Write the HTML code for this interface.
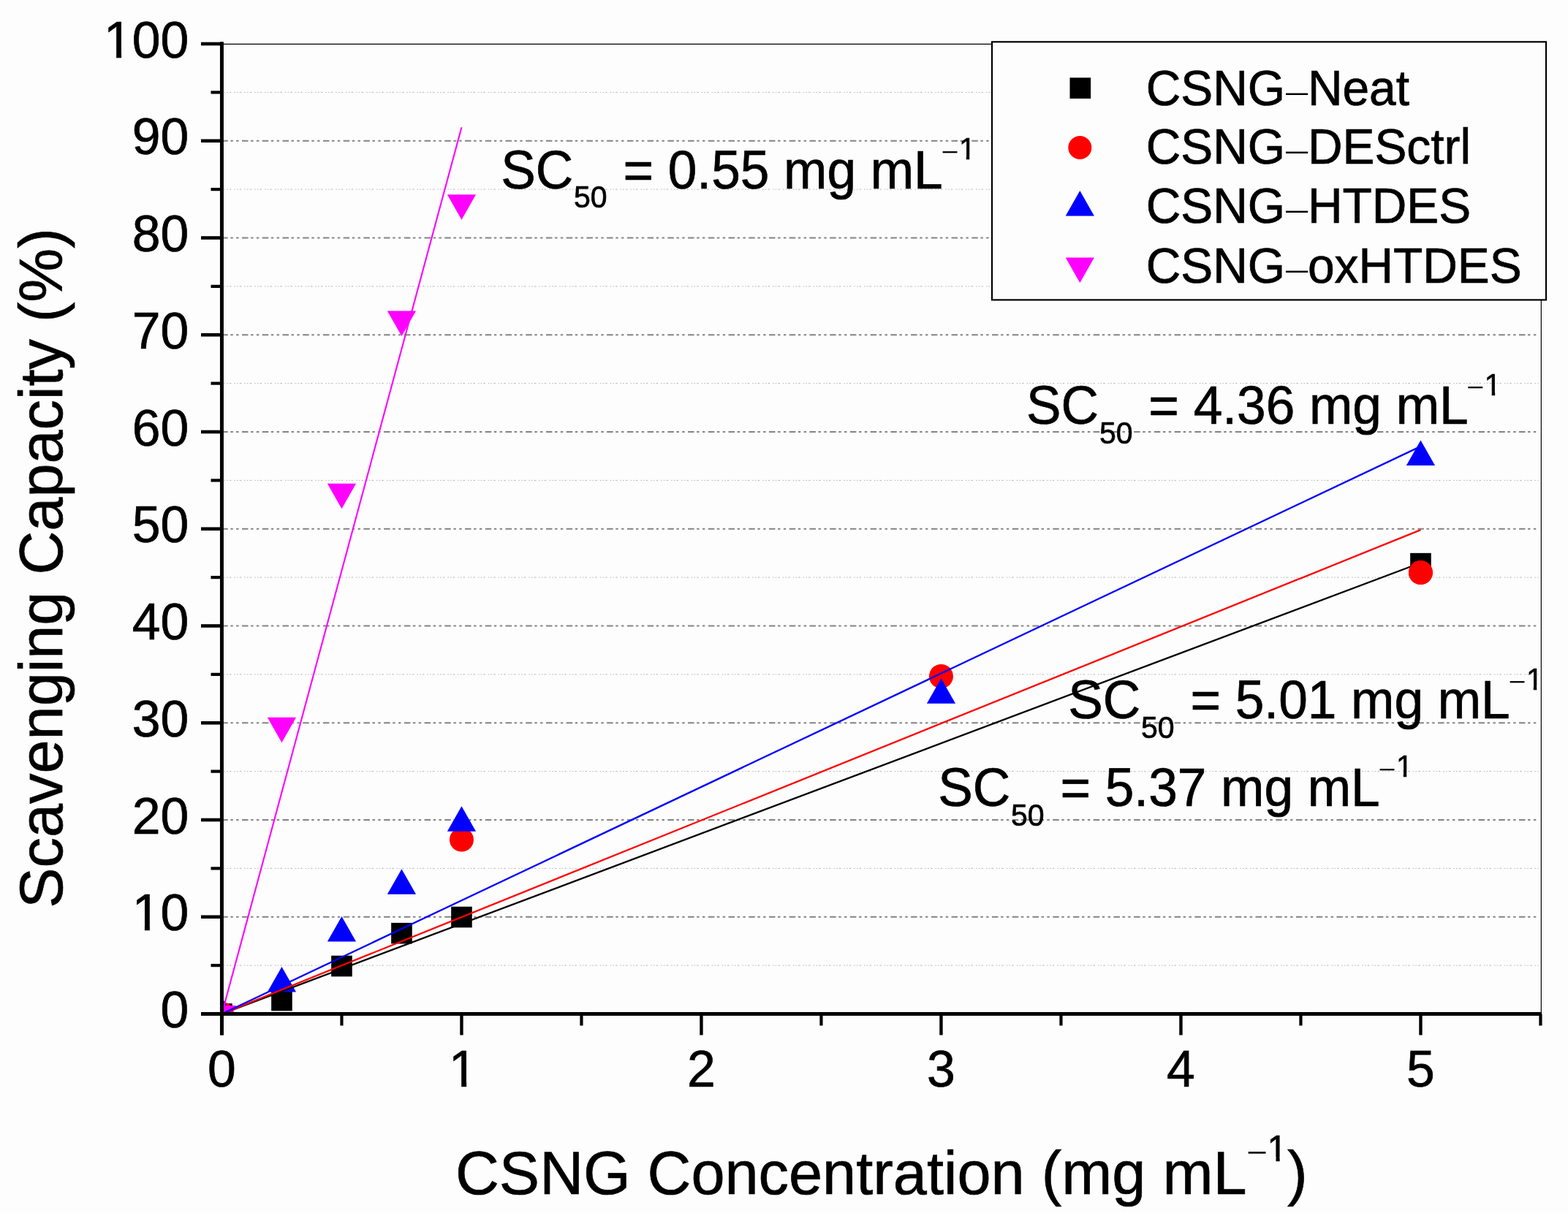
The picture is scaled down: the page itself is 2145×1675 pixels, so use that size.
<!DOCTYPE html>
<html><head><meta charset="utf-8"><title>Scavenging Capacity chart</title>
<style>html,body{margin:0;padding:0;background:#fdfdfd;overflow:hidden}svg{display:block}</style>
</head><body>
<svg width="2145" height="1675" viewBox="0 0 2145 1675"><defs><clipPath id="one1" clipPathUnits="userSpaceOnUse"><rect x="175.77" y="1203.65" width="87.53" height="62.74"/><rect x="197.90" y="1203.65" width="6.95" height="72.70"/><rect x="219.04" y="1203.65" width="87.53" height="90.61"/></clipPath><clipPath id="one2" clipPathUnits="userSpaceOnUse"><rect x="137.01" y="8.90" width="126.29" height="62.74"/><rect x="159.14" y="8.90" width="6.95" height="72.70"/><rect x="180.27" y="8.90" width="126.29" height="90.61"/></clipPath><clipPath id="one3" clipPathUnits="userSpaceOnUse"><rect x="609.07" y="1417.40" width="48.76" height="62.74"/><rect x="631.20" y="1417.40" width="6.95" height="72.70"/></clipPath><clipPath id="one4" clipPathUnits="userSpaceOnUse"><rect x="1728.60" y="1540.00" width="37.25" height="43.59"/><rect x="1745.52" y="1540.00" width="5.13" height="52.00"/></clipPath><clipPath id="one5" clipPathUnits="userSpaceOnUse"><rect x="1306.90" y="177.40" width="32.80" height="36.19"/><rect x="1321.81" y="177.40" width="4.42" height="44.00"/></clipPath><clipPath id="one6" clipPathUnits="userSpaceOnUse"><rect x="2025.80" y="499.60" width="32.80" height="36.19"/><rect x="2040.71" y="499.60" width="4.42" height="44.00"/></clipPath><clipPath id="one7" clipPathUnits="userSpaceOnUse"><rect x="2082.90" y="902.80" width="32.80" height="36.19"/><rect x="2097.81" y="902.80" width="4.42" height="44.00"/></clipPath><clipPath id="one8" clipPathUnits="userSpaceOnUse"><rect x="1904.90" y="1022.50" width="32.80" height="36.19"/><rect x="1919.81" y="1022.50" width="4.42" height="44.00"/></clipPath><clipPath id="pa"><rect x="303.45" y="60" width="1804.00" height="1327.50"/></clipPath></defs><rect x="0" y="0" width="2145" height="1675" fill="#fdfdfd"/>
<rect x="0" y="1659" width="2145" height="16" fill="#ffffff"/>
<line x1="306.45" y1="1321.12" x2="2104.45" y2="1321.12" stroke="#b4b4b4" stroke-width="1" stroke-dasharray="1.5,2.2,1.5,2.2,2.5,4"/>
<line x1="306.45" y1="1188.38" x2="2104.45" y2="1188.38" stroke="#b4b4b4" stroke-width="1" stroke-dasharray="1.5,2.2,1.5,2.2,2.5,4"/>
<line x1="306.45" y1="1055.62" x2="2104.45" y2="1055.62" stroke="#b4b4b4" stroke-width="1" stroke-dasharray="1.5,2.2,1.5,2.2,2.5,4"/>
<line x1="306.45" y1="922.88" x2="2104.45" y2="922.88" stroke="#b4b4b4" stroke-width="1" stroke-dasharray="1.5,2.2,1.5,2.2,2.5,4"/>
<line x1="306.45" y1="790.12" x2="2104.45" y2="790.12" stroke="#b4b4b4" stroke-width="1" stroke-dasharray="1.5,2.2,1.5,2.2,2.5,4"/>
<line x1="306.45" y1="657.38" x2="2104.45" y2="657.38" stroke="#b4b4b4" stroke-width="1" stroke-dasharray="1.5,2.2,1.5,2.2,2.5,4"/>
<line x1="306.45" y1="524.62" x2="2104.45" y2="524.62" stroke="#b4b4b4" stroke-width="1" stroke-dasharray="1.5,2.2,1.5,2.2,2.5,4"/>
<line x1="306.45" y1="391.88" x2="2104.45" y2="391.88" stroke="#b4b4b4" stroke-width="1" stroke-dasharray="1.5,2.2,1.5,2.2,2.5,4"/>
<line x1="306.45" y1="259.12" x2="2104.45" y2="259.12" stroke="#b4b4b4" stroke-width="1" stroke-dasharray="1.5,2.2,1.5,2.2,2.5,4"/>
<line x1="306.45" y1="126.38" x2="2104.45" y2="126.38" stroke="#b4b4b4" stroke-width="1" stroke-dasharray="1.5,2.2,1.5,2.2,2.5,4"/>
<line x1="303.27" y1="1254.75" x2="2102.45" y2="1254.75" stroke="#838383" stroke-width="2.2" stroke-dasharray="8.5,3.6,3.4,4.4,3.4,4.43"/>
<line x1="303.27" y1="1122.00" x2="2102.45" y2="1122.00" stroke="#838383" stroke-width="2.2" stroke-dasharray="8.5,3.6,3.4,4.4,3.4,4.43"/>
<line x1="303.27" y1="989.25" x2="2102.45" y2="989.25" stroke="#838383" stroke-width="2.2" stroke-dasharray="8.5,3.6,3.4,4.4,3.4,4.43"/>
<line x1="303.27" y1="856.50" x2="2102.45" y2="856.50" stroke="#838383" stroke-width="2.2" stroke-dasharray="8.5,3.6,3.4,4.4,3.4,4.43"/>
<line x1="303.27" y1="723.75" x2="2102.45" y2="723.75" stroke="#838383" stroke-width="2.2" stroke-dasharray="8.5,3.6,3.4,4.4,3.4,4.43"/>
<line x1="303.27" y1="591.00" x2="2102.45" y2="591.00" stroke="#838383" stroke-width="2.2" stroke-dasharray="8.5,3.6,3.4,4.4,3.4,4.43"/>
<line x1="303.27" y1="458.25" x2="2102.45" y2="458.25" stroke="#838383" stroke-width="2.2" stroke-dasharray="8.5,3.6,3.4,4.4,3.4,4.43"/>
<line x1="303.27" y1="325.50" x2="2102.45" y2="325.50" stroke="#838383" stroke-width="2.2" stroke-dasharray="8.5,3.6,3.4,4.4,3.4,4.43"/>
<line x1="303.27" y1="192.75" x2="2102.45" y2="192.75" stroke="#838383" stroke-width="2.2" stroke-dasharray="8.5,3.6,3.4,4.4,3.4,4.43"/>
<line x1="303.45" y1="60.4" x2="2108.45" y2="60.4" stroke="#000" stroke-width="1.2"/>
<line x1="2108.35" y1="60" x2="2108.35" y2="1387.50" stroke="#000" stroke-width="1.2"/>
<g clip-path="url(#pa)"><rect x="289.15" y="1373.20" width="28.6" height="28.6" fill="#000"/><rect x="371.15" y="1354.75" width="28.6" height="28.6" fill="#000"/><rect x="453.15" y="1307.75" width="28.6" height="28.6" fill="#000"/><rect x="535.15" y="1262.88" width="28.6" height="28.6" fill="#000"/><rect x="617.15" y="1240.72" width="28.6" height="28.6" fill="#000"/><rect x="1929.15" y="756.84" width="28.6" height="28.6" fill="#000"/><circle cx="303.45" cy="1387.50" r="16.5" fill="#f00"/><circle cx="631.45" cy="1149.08" r="16.5" fill="#f00"/><circle cx="1287.45" cy="925.53" r="16.5" fill="#f00"/><circle cx="1943.45" cy="783.49" r="16.5" fill="#f00"/><polygon points="303.45,1364.43 323.05,1399.03 283.85,1399.03" fill="#00f"/><polygon points="385.45,1322.88 405.05,1357.48 365.85,1357.48" fill="#00f"/><polygon points="467.45,1253.99 487.05,1288.59 447.85,1288.59" fill="#00f"/><polygon points="549.45,1189.20 569.05,1223.80 529.85,1223.80" fill="#00f"/><polygon points="631.45,1103.18 651.05,1137.78 611.85,1137.78" fill="#00f"/><polygon points="1287.45,928.22 1307.05,962.82 1267.85,962.82" fill="#00f"/><polygon points="1943.45,602.45 1963.05,637.05 1923.85,637.05" fill="#00f"/><polygon points="283.85,1375.97 323.05,1375.97 303.45,1410.57" fill="#f0f"/><polygon points="365.85,981.70 405.05,981.70 385.45,1016.30" fill="#f0f"/><polygon points="447.85,661.77 487.05,661.77 467.45,696.37" fill="#f0f"/><polygon points="529.85,425.48 569.05,425.48 549.45,460.08" fill="#f0f"/><polygon points="611.85,266.18 651.05,266.18 631.45,300.78" fill="#f0f"/></g>
<g clip-path="url(#pa)"><line x1="303.45" y1="1387.50" x2="1943.45" y2="770.21" stroke="#000" stroke-width="2.3"/><line x1="303.45" y1="1387.50" x2="1943.45" y2="725.08" stroke="#f00" stroke-width="2.3"/><line x1="303.45" y1="1387.50" x2="1943.45" y2="610.91" stroke="#00f" stroke-width="2.3"/><line x1="303.45" y1="1387.50" x2="631.45" y2="174.16" stroke="#f0f" stroke-width="2.1"/></g>
<circle cx="1943.45" cy="783.49" r="16.5" fill="#f00"/>
<line x1="303.45" y1="57.3" x2="303.45" y2="1416.5" stroke="#000" stroke-width="5"/>
<line x1="275" y1="1387.50" x2="2108.95" y2="1387.50" stroke="#000" stroke-width="5"/>
<line x1="275" y1="1387.50" x2="303.45" y2="1387.50" stroke="#000" stroke-width="4.6"/>
<line x1="275" y1="1254.75" x2="303.45" y2="1254.75" stroke="#000" stroke-width="4.6"/>
<line x1="275" y1="1122.00" x2="303.45" y2="1122.00" stroke="#000" stroke-width="4.6"/>
<line x1="275" y1="989.25" x2="303.45" y2="989.25" stroke="#000" stroke-width="4.6"/>
<line x1="275" y1="856.50" x2="303.45" y2="856.50" stroke="#000" stroke-width="4.6"/>
<line x1="275" y1="723.75" x2="303.45" y2="723.75" stroke="#000" stroke-width="4.6"/>
<line x1="275" y1="591.00" x2="303.45" y2="591.00" stroke="#000" stroke-width="4.6"/>
<line x1="275" y1="458.25" x2="303.45" y2="458.25" stroke="#000" stroke-width="4.6"/>
<line x1="275" y1="325.50" x2="303.45" y2="325.50" stroke="#000" stroke-width="4.6"/>
<line x1="275" y1="192.75" x2="303.45" y2="192.75" stroke="#000" stroke-width="4.6"/>
<line x1="275" y1="60.00" x2="303.45" y2="60.00" stroke="#000" stroke-width="4.6"/>
<line x1="288.5" y1="1321.12" x2="303.45" y2="1321.12" stroke="#000" stroke-width="4.2"/>
<line x1="288.5" y1="1188.38" x2="303.45" y2="1188.38" stroke="#000" stroke-width="4.2"/>
<line x1="288.5" y1="1055.62" x2="303.45" y2="1055.62" stroke="#000" stroke-width="4.2"/>
<line x1="288.5" y1="922.88" x2="303.45" y2="922.88" stroke="#000" stroke-width="4.2"/>
<line x1="288.5" y1="790.12" x2="303.45" y2="790.12" stroke="#000" stroke-width="4.2"/>
<line x1="288.5" y1="657.38" x2="303.45" y2="657.38" stroke="#000" stroke-width="4.2"/>
<line x1="288.5" y1="524.62" x2="303.45" y2="524.62" stroke="#000" stroke-width="4.2"/>
<line x1="288.5" y1="391.88" x2="303.45" y2="391.88" stroke="#000" stroke-width="4.2"/>
<line x1="288.5" y1="259.12" x2="303.45" y2="259.12" stroke="#000" stroke-width="4.2"/>
<line x1="288.5" y1="126.38" x2="303.45" y2="126.38" stroke="#000" stroke-width="4.2"/>
<line x1="303.45" y1="1387.50" x2="303.45" y2="1416.5" stroke="#000" stroke-width="4.4"/>
<line x1="631.45" y1="1387.50" x2="631.45" y2="1416.5" stroke="#000" stroke-width="4.4"/>
<line x1="959.45" y1="1387.50" x2="959.45" y2="1416.5" stroke="#000" stroke-width="4.4"/>
<line x1="1287.45" y1="1387.50" x2="1287.45" y2="1416.5" stroke="#000" stroke-width="4.4"/>
<line x1="1615.45" y1="1387.50" x2="1615.45" y2="1416.5" stroke="#000" stroke-width="4.4"/>
<line x1="1943.45" y1="1387.50" x2="1943.45" y2="1416.5" stroke="#000" stroke-width="4.4"/>
<line x1="467.45" y1="1387.50" x2="467.45" y2="1403.5" stroke="#000" stroke-width="4.2"/>
<line x1="795.45" y1="1387.50" x2="795.45" y2="1403.5" stroke="#000" stroke-width="4.2"/>
<line x1="1123.45" y1="1387.50" x2="1123.45" y2="1403.5" stroke="#000" stroke-width="4.2"/>
<line x1="1451.45" y1="1387.50" x2="1451.45" y2="1403.5" stroke="#000" stroke-width="4.2"/>
<line x1="1779.45" y1="1387.50" x2="1779.45" y2="1403.5" stroke="#000" stroke-width="4.2"/>
<line x1="2107.45" y1="1387.50" x2="2107.45" y2="1403.5" stroke="#000" stroke-width="4.2"/>
<text x="258.30" y="1406.10" font-family="'Liberation Sans', Arial, sans-serif" font-size="69.7" stroke="#000" stroke-width="0.7" text-anchor="end" transform="matrix(1,0,0,1.0,0,0.000)">0</text>
<text x="180.77" y="1273.35" font-family="'Liberation Sans', Arial, sans-serif" font-size="69.7" stroke="#000" stroke-width="0.7" clip-path="url(#one1)" transform="matrix(1,0,0,1.0,0,0.000)">10</text>
<text x="258.30" y="1140.60" font-family="'Liberation Sans', Arial, sans-serif" font-size="69.7" stroke="#000" stroke-width="0.7" text-anchor="end" transform="matrix(1,0,0,1.0,0,0.000)">20</text>
<text x="258.30" y="1007.85" font-family="'Liberation Sans', Arial, sans-serif" font-size="69.7" stroke="#000" stroke-width="0.7" text-anchor="end" transform="matrix(1,0,0,1.0,0,0.000)">30</text>
<text x="258.30" y="875.10" font-family="'Liberation Sans', Arial, sans-serif" font-size="69.7" stroke="#000" stroke-width="0.7" text-anchor="end" transform="matrix(1,0,0,1.0,0,0.000)">40</text>
<text x="258.30" y="742.35" font-family="'Liberation Sans', Arial, sans-serif" font-size="69.7" stroke="#000" stroke-width="0.7" text-anchor="end" transform="matrix(1,0,0,1.0,0,0.000)">50</text>
<text x="258.30" y="609.60" font-family="'Liberation Sans', Arial, sans-serif" font-size="69.7" stroke="#000" stroke-width="0.7" text-anchor="end" transform="matrix(1,0,0,1.0,0,0.000)">60</text>
<text x="258.30" y="476.85" font-family="'Liberation Sans', Arial, sans-serif" font-size="69.7" stroke="#000" stroke-width="0.7" text-anchor="end" transform="matrix(1,0,0,1.0,0,0.000)">70</text>
<text x="258.30" y="344.10" font-family="'Liberation Sans', Arial, sans-serif" font-size="69.7" stroke="#000" stroke-width="0.7" text-anchor="end" transform="matrix(1,0,0,1.0,0,0.000)">80</text>
<text x="258.30" y="211.35" font-family="'Liberation Sans', Arial, sans-serif" font-size="69.7" stroke="#000" stroke-width="0.7" text-anchor="end" transform="matrix(1,0,0,1.0,0,0.000)">90</text>
<text x="142.01" y="78.60" font-family="'Liberation Sans', Arial, sans-serif" font-size="69.7" stroke="#000" stroke-width="0.7" clip-path="url(#one2)" transform="matrix(1,0,0,1.0,0,0.000)">100</text>
<text x="303.45" y="1487.10" font-family="'Liberation Sans', Arial, sans-serif" font-size="69.7" stroke="#000" stroke-width="0.7" text-anchor="middle" transform="matrix(1,0,0,1.0,0,0.000)">0</text>
<text x="614.07" y="1487.10" font-family="'Liberation Sans', Arial, sans-serif" font-size="69.7" stroke="#000" stroke-width="0.7" clip-path="url(#one3)" transform="matrix(1,0,0,1.0,0,0.000)">1</text>
<text x="959.45" y="1487.10" font-family="'Liberation Sans', Arial, sans-serif" font-size="69.7" stroke="#000" stroke-width="0.7" text-anchor="middle" transform="matrix(1,0,0,1.0,0,0.000)">2</text>
<text x="1287.45" y="1487.10" font-family="'Liberation Sans', Arial, sans-serif" font-size="69.7" stroke="#000" stroke-width="0.7" text-anchor="middle" transform="matrix(1,0,0,1.0,0,0.000)">3</text>
<text x="1615.45" y="1487.10" font-family="'Liberation Sans', Arial, sans-serif" font-size="69.7" stroke="#000" stroke-width="0.7" text-anchor="middle" transform="matrix(1,0,0,1.0,0,0.000)">4</text>
<text x="1943.45" y="1487.10" font-family="'Liberation Sans', Arial, sans-serif" font-size="69.7" stroke="#000" stroke-width="0.7" text-anchor="middle" transform="matrix(1,0,0,1.0,0,0.000)">5</text>
<g transform="translate(85.3,1242.8) rotate(-90)"><text x="0.00" y="0.00" font-family="'Liberation Sans', Arial, sans-serif" font-size="82.9" stroke="#000" stroke-width="0.7"  transform="matrix(1,0,0,1.015,0,-0.000)">Scavenging Capacity (%)</text></g>
<text x="623.00" y="1634.40" font-family="'Liberation Sans', Arial, sans-serif" font-size="82.9" stroke="#000" stroke-width="0.7"  transform="matrix(1,0,0,1.015,0,-24.516)">CSNG Concentration (mg mL</text><text x="1705.30" y="1589.99" font-family="'Liberation Sans', Arial, sans-serif" font-size="49" transform="matrix(1,0,0,0.7728,0,361.215)">−</text><text x="1733.60" y="1589.00" font-family="'Liberation Sans', Arial, sans-serif" font-size="49" stroke="#000" stroke-width="0.7" clip-path="url(#one4)" transform="matrix(1,0,0,1.03,0,-47.670)">1</text><text x="1761.00" y="1634.40" font-family="'Liberation Sans', Arial, sans-serif" font-size="82.9" stroke="#000" stroke-width="0.7"  transform="matrix(1,0,0,1.015,0,-24.516)">)</text>
<text x="685.17" y="257.60" font-family="'Liberation Sans', Arial, sans-serif" font-size="71.2" stroke="#000" stroke-width="0.7"  transform="matrix(1,0,0,1.03,0,-7.728)">SC</text><text x="785.06" y="284.50" font-family="'Liberation Sans', Arial, sans-serif" font-size="41" stroke="#000" stroke-width="0.7"  transform="matrix(1,0,0,1.03,0,-8.535)">50</text><text x="852.43" y="257.60" font-family="'Liberation Sans', Arial, sans-serif" font-size="71.2" stroke="#000" stroke-width="0.7" xml:space="preserve" transform="matrix(1,0,0,1.03,0,-7.728)">= 0.55 mg mL</text><text x="1287.70" y="218.73" font-family="'Liberation Sans', Arial, sans-serif" font-size="41" transform="matrix(1,0,0,0.7868,0,46.637)">−</text><text x="1311.90" y="218.40" font-family="'Liberation Sans', Arial, sans-serif" font-size="41" stroke="#000" stroke-width="0.7" clip-path="url(#one5)" transform="matrix(1,0,0,1.03,0,-6.552)">1</text>
<text x="1404.07" y="579.80" font-family="'Liberation Sans', Arial, sans-serif" font-size="71.2" stroke="#000" stroke-width="0.7"  transform="matrix(1,0,0,1.03,0,-17.394)">SC</text><text x="1503.96" y="606.70" font-family="'Liberation Sans', Arial, sans-serif" font-size="41" stroke="#000" stroke-width="0.7"  transform="matrix(1,0,0,1.03,0,-18.201)">50</text><text x="1571.33" y="579.80" font-family="'Liberation Sans', Arial, sans-serif" font-size="71.2" stroke="#000" stroke-width="0.7" xml:space="preserve" transform="matrix(1,0,0,1.03,0,-17.394)">= 4.36 mg mL</text><text x="2006.60" y="540.93" font-family="'Liberation Sans', Arial, sans-serif" font-size="41" transform="matrix(1,0,0,0.7868,0,115.335)">−</text><text x="2030.80" y="540.60" font-family="'Liberation Sans', Arial, sans-serif" font-size="41" stroke="#000" stroke-width="0.7" clip-path="url(#one6)" transform="matrix(1,0,0,1.03,0,-16.218)">1</text>
<text x="1461.17" y="983.00" font-family="'Liberation Sans', Arial, sans-serif" font-size="71.2" stroke="#000" stroke-width="0.7"  transform="matrix(1,0,0,1.03,0,-29.490)">SC</text><text x="1561.06" y="1009.90" font-family="'Liberation Sans', Arial, sans-serif" font-size="41" stroke="#000" stroke-width="0.7"  transform="matrix(1,0,0,1.03,0,-30.297)">50</text><text x="1628.43" y="983.00" font-family="'Liberation Sans', Arial, sans-serif" font-size="71.2" stroke="#000" stroke-width="0.7" xml:space="preserve" transform="matrix(1,0,0,1.03,0,-29.490)">= 5.01 mg mL</text><text x="2063.70" y="944.13" font-family="'Liberation Sans', Arial, sans-serif" font-size="41" transform="matrix(1,0,0,0.7868,0,201.305)">−</text><text x="2087.90" y="943.80" font-family="'Liberation Sans', Arial, sans-serif" font-size="41" stroke="#000" stroke-width="0.7" clip-path="url(#one7)" transform="matrix(1,0,0,1.03,0,-28.314)">1</text>
<text x="1283.17" y="1102.70" font-family="'Liberation Sans', Arial, sans-serif" font-size="71.2" stroke="#000" stroke-width="0.7"  transform="matrix(1,0,0,1.03,0,-33.081)">SC</text><text x="1383.06" y="1129.60" font-family="'Liberation Sans', Arial, sans-serif" font-size="41" stroke="#000" stroke-width="0.7"  transform="matrix(1,0,0,1.03,0,-33.888)">50</text><text x="1450.43" y="1102.70" font-family="'Liberation Sans', Arial, sans-serif" font-size="71.2" stroke="#000" stroke-width="0.7" xml:space="preserve" transform="matrix(1,0,0,1.03,0,-33.081)">= 5.37 mg mL</text><text x="1885.70" y="1063.83" font-family="'Liberation Sans', Arial, sans-serif" font-size="41" transform="matrix(1,0,0,0.7868,0,226.827)">−</text><text x="1909.90" y="1063.50" font-family="'Liberation Sans', Arial, sans-serif" font-size="41" stroke="#000" stroke-width="0.7" clip-path="url(#one8)" transform="matrix(1,0,0,1.03,0,-31.905)">1</text>
<rect x="1357" y="57.3" width="758" height="353.1" fill="#fdfdfd" stroke="#000" stroke-width="2.2"/>
<text x="1567.70" y="144.00" font-family="'Liberation Sans', Arial, sans-serif" font-size="65.9" stroke="#000" stroke-width="0.7"  transform="matrix(1,0,0,1.03,0,-4.320)">CSNG</text><text x="0" y="0" font-family="'Liberation Sans', Arial, sans-serif" font-size="65.9" transform="translate(1758.9,128.60) scale(0.8247,0.5671) translate(0,16.716)">–</text><text x="1788.90" y="144.00" font-family="'Liberation Sans', Arial, sans-serif" font-size="65.9" stroke="#000" stroke-width="0.7"  transform="matrix(1,0,0,1.03,0,-4.320)">Neat</text>
<text x="1567.70" y="224.40" font-family="'Liberation Sans', Arial, sans-serif" font-size="65.9" stroke="#000" stroke-width="0.7"  transform="matrix(1,0,0,1.03,0,-6.732)">CSNG</text><text x="0" y="0" font-family="'Liberation Sans', Arial, sans-serif" font-size="65.9" transform="translate(1758.9,209.00) scale(0.8247,0.5671) translate(0,16.716)">–</text><text x="1788.90" y="224.40" font-family="'Liberation Sans', Arial, sans-serif" font-size="65.9" stroke="#000" stroke-width="0.7"  transform="matrix(1,0,0,1.03,0,-6.732)">DESctrl</text>
<text x="1567.70" y="304.60" font-family="'Liberation Sans', Arial, sans-serif" font-size="65.9" stroke="#000" stroke-width="0.7"  transform="matrix(1,0,0,1.03,0,-9.138)">CSNG</text><text x="0" y="0" font-family="'Liberation Sans', Arial, sans-serif" font-size="65.9" transform="translate(1758.9,289.20) scale(0.8247,0.5671) translate(0,16.716)">–</text><text x="1788.90" y="304.60" font-family="'Liberation Sans', Arial, sans-serif" font-size="65.9" stroke="#000" stroke-width="0.7"  transform="matrix(1,0,0,1.03,0,-9.138)">HTDES</text>
<text x="1567.70" y="386.60" font-family="'Liberation Sans', Arial, sans-serif" font-size="65.9" stroke="#000" stroke-width="0.7"  transform="matrix(1,0,0,1.03,0,-11.598)">CSNG</text><text x="0" y="0" font-family="'Liberation Sans', Arial, sans-serif" font-size="65.9" transform="translate(1758.9,371.20) scale(0.8247,0.5671) translate(0,16.716)">–</text><text x="1788.90" y="386.60" font-family="'Liberation Sans', Arial, sans-serif" font-size="65.9" stroke="#000" stroke-width="0.7"  transform="matrix(1,0,0,1.03,0,-11.598)">oxHTDES</text>
<rect x="1463.50" y="106.30" width="28.6" height="28.6" fill="#000"/>
<circle cx="1477.30" cy="202.00" r="16.0" fill="#f00"/>
<polygon points="1477.30,260.93 1496.90,295.53 1457.70,295.53" fill="#00f"/>
<polygon points="1457.70,352.47 1496.90,352.47 1477.30,387.07" fill="#f0f"/></svg>
</body></html>
